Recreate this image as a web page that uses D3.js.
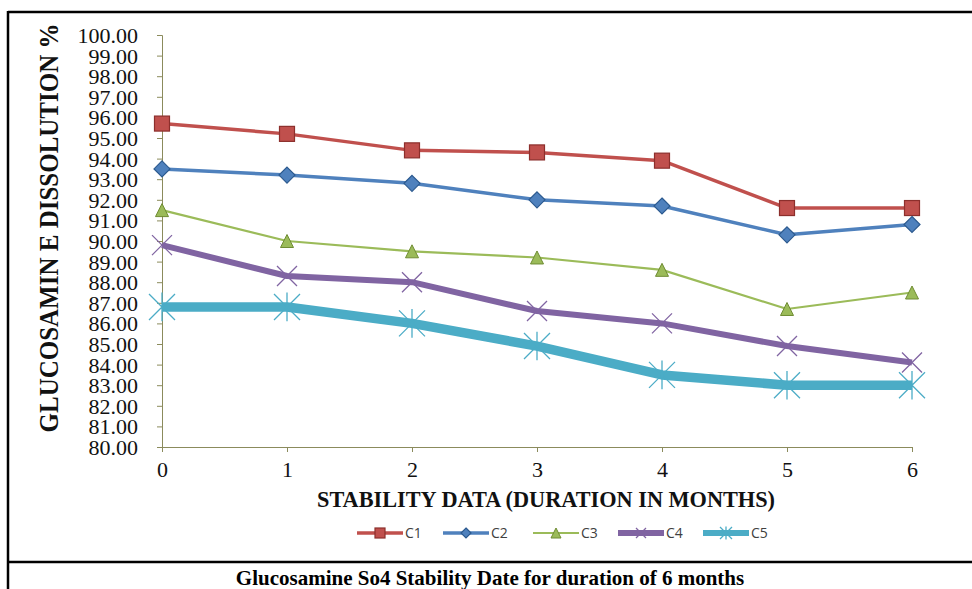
<!DOCTYPE html>
<html>
<head>
<meta charset="utf-8">
<script src="https://cdn.jsdelivr.net/npm/d3@7"></script>
<style>
  html, body { margin: 0; padding: 0; background: #fff; }
  svg { display: block; }
</style>
</head>
<body>
<div id="chart"></div>
<script>
// ---- data ----
const months = [0, 1, 2, 3, 4, 5, 6];
const yTicks = d3.range(80, 100.001, 1);
const seriesNames = ['C1', 'C2', 'C3', 'C4', 'C5'];
const c1 = [95.7, 95.2, 94.4, 94.3, 93.9, 91.6, 91.6];
const c2 = [93.5, 93.2, 92.8, 92.0, 91.7, 90.3, 90.8];
const c3 = [91.5, 90.0, 89.5, 89.2, 88.6, 86.7, 87.5];
const c4 = [89.8, 88.3, 88.0, 86.6, 86.0, 84.9, 84.1];
const c5 = [86.8, 86.8, 86.0, 84.9, 83.5, 83.0, 83.0];

const W = 972, H = 589;
const serif = '"Liberation Serif", "Times New Roman", serif';
const svg = d3.select('#chart').append('svg').attr('width', W).attr('height', H);

// frame lines
const frame = svg.append('g').attr('stroke', '#000').attr('stroke-width', 2.5);
frame.append('line').attr('x1', 8).attr('x2', 975).attr('y1', 12).attr('y2', 12);
frame.append('line').attr('x1', 8).attr('x2', 8).attr('y1', 11).attr('y2', 592);
frame.append('line').attr('x1', 8).attr('x2', 975).attr('y1', 562).attr('y2', 562);

const x = d3.scaleLinear().domain([0, 6]).range([162, 912]);
const y = d3.scaleLinear().domain([80, 100]).range([447, 35]);
const axisColor = '#8b8b5c';

// y axis
const gy = svg.append('g').attr('transform', 'translate(162,0)')
  .call(d3.axisLeft(y).tickValues(yTicks).tickSize(5).tickPadding(19).tickFormat(d3.format('.2f')));
gy.select('.domain').attr('stroke', axisColor);
gy.selectAll('.tick line').attr('stroke', axisColor);
gy.selectAll('.tick text')
  .attr('font-family', serif)
  .attr('font-size', 22).attr('fill', '#111').attr('dy', '0.34em');

// x axis
const gx = svg.append('g').attr('transform', 'translate(0,447)')
  .call(d3.axisBottom(x).tickValues(months).tickSize(5).tickPadding(9).tickFormat(d3.format('d')));
gx.select('.domain').attr('stroke', axisColor);
gx.selectAll('.tick line').attr('stroke', axisColor);
gx.selectAll('.tick text')
  .attr('font-family', serif)
  .attr('font-size', 22).attr('fill', '#111');

// axis titles
svg.append('text')
  .attr('transform', 'translate(58,228) rotate(-90) scale(1,1.12)')
  .attr('text-anchor', 'middle')
  .attr('font-family', serif)
  .attr('font-weight', 'bold').attr('font-size', 25).attr('fill', '#111')
  .text('GLUCOSAMIN E DISSOLUTION %');

svg.append('text')
  .attr('x', 546).attr('y', 507)
  .attr('text-anchor', 'middle')
  .attr('font-family', serif)
  .attr('font-weight', 'bold').attr('font-size', 24).attr('fill', '#111')
  .attr('textLength', 458).attr('lengthAdjust', 'spacingAndGlyphs')
  .text('STABILITY DATA (DURATION IN MONTHS)');

// caption
svg.append('text')
  .attr('x', 490).attr('y', 585)
  .attr('text-anchor', 'middle')
  .attr('font-family', serif)
  .attr('font-weight', 'bold').attr('font-size', 21).attr('fill', '#000')
  .text('Glucosamine So4 Stability Date for duration of 6 months');

// series styling
const series = [
  { name: seriesNames[0], values: c1, color: '#c0504d', dark: '#8c2f2c', width: 3.5, marker: 'square' },
  { name: seriesNames[1], values: c2, color: '#4f81bd', dark: '#2c5a8f', width: 3.5, marker: 'diamond' },
  { name: seriesNames[2], values: c3, color: '#9bbb59', dark: '#6f8c33', width: 2.2, marker: 'triangle' },
  { name: seriesNames[3], values: c4, color: '#8064a2', dark: '#8064a2', width: 6, marker: 'x' },
  { name: seriesNames[4], values: c5, color: '#4bacc6', dark: '#4bacc6', width: 9.5, marker: 'star' }
];

function drawMarker(g, type, s, color, dark) {
  if (type === 'square') {
    g.append('rect').attr('x', -s / 2).attr('y', -s / 2).attr('width', s).attr('height', s)
      .attr('fill', color).attr('stroke', dark).attr('stroke-width', 1.2);
  } else if (type === 'diamond') {
    g.append('path').attr('d', `M0,${-s / 2}L${s / 2},0L0,${s / 2}L${-s / 2},0Z`)
      .attr('fill', color).attr('stroke', dark).attr('stroke-width', 1.2);
  } else if (type === 'triangle') {
    g.append('path').attr('d', `M0,${-s / 2}L${s / 2},${s / 2}L${-s / 2},${s / 2}Z`)
      .attr('fill', color).attr('stroke', dark).attr('stroke-width', 1);
  } else if (type === 'x') {
    const h = s / 2;
    g.append('path').attr('d', `M${-h},${-h}L${h},${h}M${-h},${h}L${h},${-h}`)
      .attr('stroke', color).attr('stroke-width', 1.3).attr('fill', 'none');
  } else if (type === 'star') {
    const h = s / 2;
    g.append('path').attr('d', `M${-h},${-h}L${h},${h}M${-h},${h}L${h},${-h}M0,${-h * 1.1}L0,${h * 1.1}`)
      .attr('stroke', color).attr('stroke-width', 1.3).attr('fill', 'none');
  }
}

const markerSize = { square: 15, diamond: 16, triangle: 13, x: 20, star: 26 };

const line = d3.line().x((d, i) => x(months[i])).y(d => y(d));

series.forEach(s => {
  const g = svg.append('g');
  g.append('path').datum(s.values)
    .attr('d', line).attr('fill', 'none')
    .attr('stroke', s.color).attr('stroke-width', s.width)
    .attr('stroke-linejoin', 'round');
  s.values.forEach((v, i) => {
    const m = g.append('g').attr('transform', `translate(${x(months[i])},${y(v)})`);
    drawMarker(m, s.marker, markerSize[s.marker], s.color, s.dark);
  });
});

// legend
const legendX = [357, 443, 533, 618, 703];
const legend = svg.append('g').attr('transform', 'translate(0,533)');
series.forEach((s, i) => {
  const g = legend.append('g').attr('transform', `translate(${legendX[i]},0)`);
  g.append('line').attr('x1', 0).attr('x2', 46).attr('y1', 0).attr('y2', 0)
    .attr('stroke', s.color).attr('stroke-width', Math.min(s.width, 6));
  const m = g.append('g').attr('transform', 'translate(23,0)');
  drawMarker(m, s.marker, s.marker === 'star' ? 12 : 10, s.color, s.dark);
  g.append('text').attr('x', 48).attr('y', 5)
    .attr('font-family', '"Open Sans", "DejaVu Sans", sans-serif')
    .attr('font-size', 14).attr('fill', '#404040')
    .text(s.name);
});
</script>
</body>
</html>
